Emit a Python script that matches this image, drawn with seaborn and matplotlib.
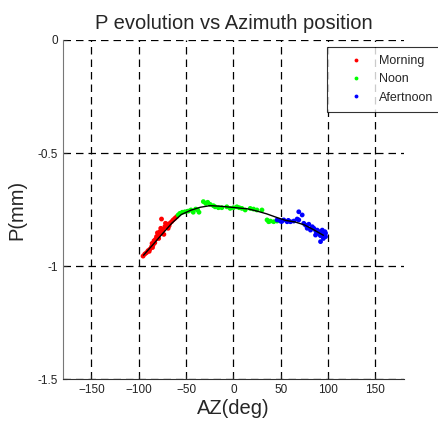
import pandas as pd
import matplotlib
matplotlib.use("Agg")
import matplotlib.pyplot as plt
import seaborn as sns

# Morning points
morning_az = [-95.5, -93.7, -91.9, -90.2, -88.4, -86.6, -84.9, -86.0, -83.1, -83.9,
              -82.4, -81.3, -79.6, -80.3, -77.8, -76.0, -74.3, -76.8, -72.5, -70.7,
              -69.0, -71.8, -67.2, -65.4, -63.7, -61.9, -60.1, -76.0, -79.0, -73.5,
              -68.0, -85.5, -89.0, -75.0, -70.0]
morning_p = [-0.956, -0.947, -0.941, -0.932, -0.926, -0.915, -0.907, -0.900, -0.897, -0.888,
             -0.882, -0.870, -0.863, -0.853, -0.848, -0.855, -0.841, -0.833, -0.826, -0.819,
             -0.833, -0.811, -0.811, -0.804, -0.796, -0.789, -0.782, -0.792, -0.878, -0.860,
             -0.822, -0.918, -0.935, -0.838, -0.815]

# Noon points
noon_az = [-58.4, -56.6, -54.1, -51.3, -47.8, -44.9, -42.5, -39.9, -37.8, -36.4,
           -31.8, -29.3, -27.2, -24.7, -21.2, -19.4, -15.9, -12.3, -7.0, -3.5,
           0.0, 3.6, 6.1, 8.9, 12.4, 17.7, 21.2, 24.8, 30.1, 35.5, 39.0, 42.5, 46.1, 37.2]
noon_p = [-0.774, -0.767, -0.762, -0.760, -0.757, -0.752, -0.762, -0.748, -0.752, -0.762,
          -0.715, -0.723, -0.718, -0.727, -0.733, -0.738, -0.742, -0.742, -0.738, -0.745,
          -0.742, -0.738, -0.742, -0.745, -0.752, -0.745, -0.748, -0.752, -0.752, -0.796,
          -0.801, -0.804, -0.801, -0.804]

# Afternoon points
afternoon_az = [46.1, 49.6, 53.1, 56.7, 60.2, 63.7, 67.3, 69.0, 69.0, 72.6,
                74.3, 76.1, 79.6, 83.2, 84.9, 88.5, 90.2, 93.8, 95.5, 97.3,
                96.6, 93.8, 92.0, 97.3, 86.7, 77.9, 81.4, 92.0, 89.0, 95.0,
                58.0, 51.0, 87.0, 91.0, 94.5]
afternoon_p = [-0.796, -0.801, -0.796, -0.804, -0.804, -0.801, -0.792, -0.796, -0.760, -0.774,
               -0.811, -0.819, -0.815, -0.826, -0.833, -0.841, -0.848, -0.855, -0.863, -0.870,
               -0.848, -0.841, -0.866, -0.855, -0.863, -0.833, -0.841, -0.892, -0.852, -0.878,
               -0.798, -0.803, -0.845, -0.860, -0.858]

# fitted curve
fit_az = [-95, -85, -75, -65, -55, -45, -35, -25, -15, -5,
          5, 15, 25, 35, 45, 55, 65, 75, 85, 95]
fit_p = [-0.952, -0.905, -0.857, -0.810, -0.772, -0.753, -0.740, -0.733, -0.735, -0.739,
         -0.743, -0.747, -0.757, -0.769, -0.784, -0.798, -0.805, -0.818, -0.840, -0.864]

groups = ["Morning", "Noon", "Afertnoon"]

df = pd.concat([
    pd.DataFrame({"AZ": morning_az, "P": morning_p, "period": groups[0]}),
    pd.DataFrame({"AZ": noon_az, "P": noon_p, "period": groups[1]}),
    pd.DataFrame({"AZ": afternoon_az, "P": afternoon_p, "period": groups[2]}),
])
fit = pd.DataFrame({"AZ": fit_az, "P": fit_p})

sns.set_style("white")
plt.rcParams["font.family"] = ["Liberation Sans", "DejaVu Sans"]

fig = plt.figure(figsize=(4.38, 4.25), dpi=100)
ax = fig.add_axes([0.144, 0.108, 0.778, 0.798])

sns.scatterplot(data=df, x="AZ", y="P", hue="period", hue_order=groups,
                palette=["#ff0000", "#00ff00", "#0000ff"], s=12, linewidth=0,
                ax=ax)
sns.lineplot(data=fit, x="AZ", y="P", color="black", linewidth=1, ax=ax)

ax.set_xlim(-180, 180)
ax.set_ylim(-1.5, 0)
ax.set_xticks([-150, -100, -50, 0, 50, 100, 150])
ax.set_yticks([-1.5, -1, -0.5, 0])
ax.set_yticklabels(["-1.5", "-1", "-0.5", "0"])
ax.grid(True, color="black", linestyle=(0, (6, 4)), linewidth=0.9)
ax.tick_params(direction="in", length=3, labelsize=8.5, colors="#222222",
               left=True, bottom=True)

for side in ["top", "right"]:
    ax.spines[side].set_visible(False)
ax.spines["left"].set_color("#777777")
ax.spines["bottom"].set_color("#333333")

ax.set_title("P evolution vs Azimuth position", fontsize=14.5, pad=8)
ax.set_xlabel("AZ(deg)", fontsize=14.5, labelpad=2)
ax.set_ylabel("P(mm)", fontsize=14.5, labelpad=8)

# legend box runs off the right edge like in the original
leg = ax.legend(loc="upper left", bbox_to_anchor=(327 / 438, 1 - 47 / 425),
                bbox_transform=fig.transFigure, fontsize=9, frameon=True,
                fancybox=False, edgecolor="black", markerscale=0.8,
                borderpad=0.65, handlelength=3.3, handletextpad=0.2,
                labelspacing=0.5, borderaxespad=0, title=None)
leg.get_frame().set_linewidth(0.8)
leg.set_clip_on(False)

fig.savefig("out.png", dpi=100)
